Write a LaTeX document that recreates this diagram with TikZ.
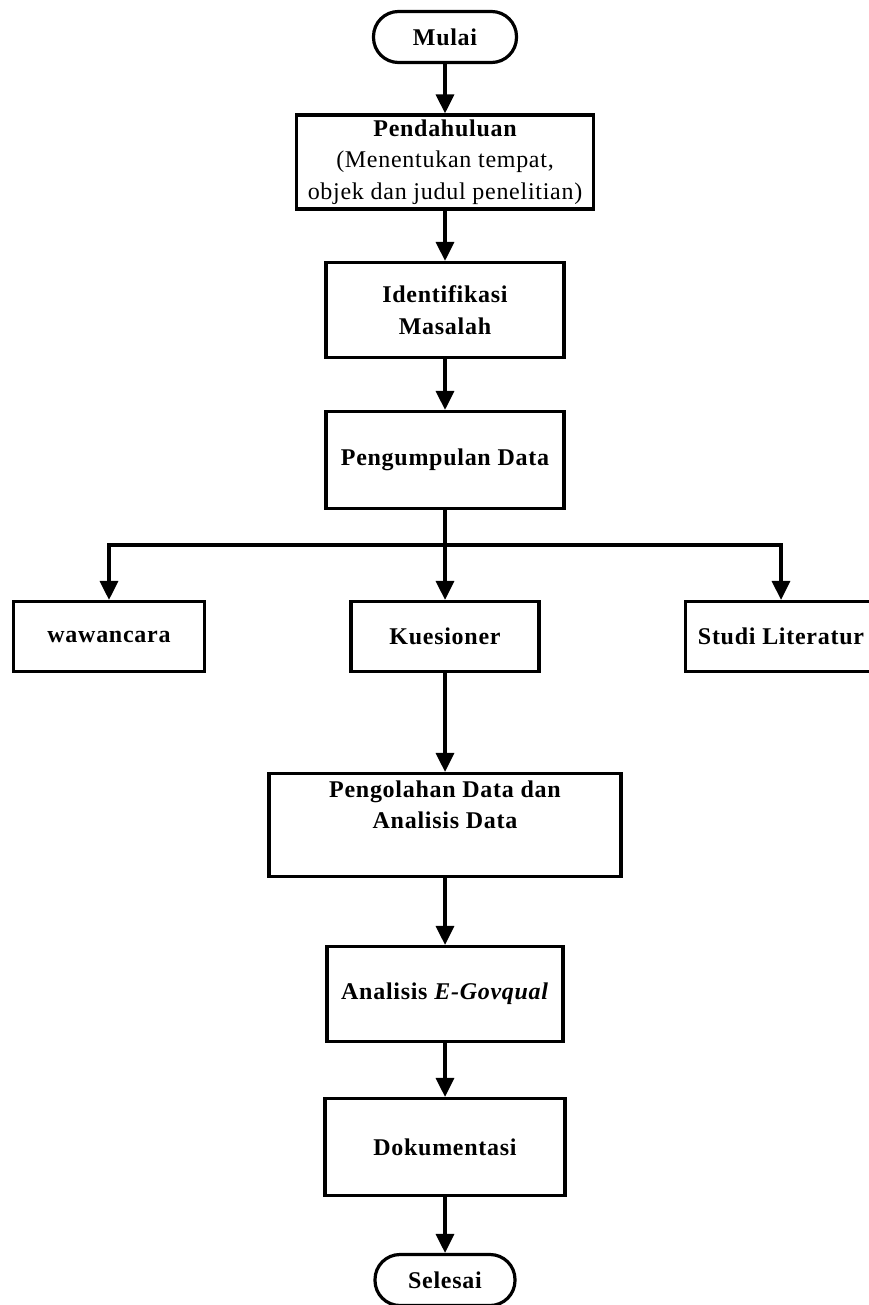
\documentclass[tikz,border=0pt]{standalone}
\usepackage{fontspec}
\setmainfont{Liberation Serif}[LetterSpace=3]
\usetikzlibrary{arrows.meta}
\begin{document}
\begin{tikzpicture}[x=1pt,y=-1pt,
  box/.style={draw, line width=3.2pt, rectangle, align=center, inner sep=0pt, font=\fontsize{24}{31.5}\selectfont\bfseries},
  term/.style={box, rounded corners=25pt},
  arr/.style={line width=3.2pt, -{Triangle[length=19pt,width=18pt]}},
  ln/.style={line width=3.2pt}]
\useasboundingbox (0,0) rectangle (869,1305);
\fill[white] (0,0) rectangle (869,1305);
\clip (0,0) rectangle (869,1305);

\node[term, minimum width=143pt, minimum height=51pt] (mulai) at (445,37) {Mulai};
\node[box, minimum width=297pt, minimum height=94pt] (pend) at (445,162)
  {Pendahuluan\\\mdseries(Menentukan tempat,\\\mdseries objek dan judul penelitian)};
\node[box, minimum width=238pt, minimum height=95pt] (ident) at (445,310) {Identifikasi\\Masalah};
\node[box, minimum width=238pt, minimum height=97pt] (kumpul) at (445,460) {Pengumpulan Data};
\coordinate (branch) at (445,545);
\node[box, minimum width=191pt, minimum height=70pt] (waw) at (109,636.5) {wawancara};
\node[box, minimum width=188pt, minimum height=70pt] (kues) at (445,636.5) {Kuesioner};
\node[box, minimum width=191pt, minimum height=70pt] (studi) at (781,636.5) {Studi Literatur};
\node[box, minimum width=352pt, minimum height=103pt] (olah) at (445,825) {Pengolahan Data dan\\Analisis Data\\\strut};
\node[box, minimum width=236pt, minimum height=95pt] (egov) at (445,994) {Analisis \textit{E-Govqual}};
\node[box, minimum width=240pt, minimum height=97pt] (dok) at (445,1147) {Dokumentasi};
\node[term, minimum width=140pt, minimum height=51pt] (sel) at (445,1280) {Selesai};

\draw[arr] (mulai) -- (pend);
\draw[arr] (pend) -- (ident);
\draw[arr] (ident) -- (kumpul);
\draw[ln] (kumpul) -- (branch);
\draw[arr] (branch) -- (kues);
\draw[arr] (branch) -| (waw);
\draw[arr] (branch) -| (studi);
\draw[arr] (kues) -- (olah);
\draw[arr] (olah) -- (egov);
\draw[arr] (egov) -- (dok);
\draw[arr] (dok) -- (sel);
\end{tikzpicture}
\end{document}
